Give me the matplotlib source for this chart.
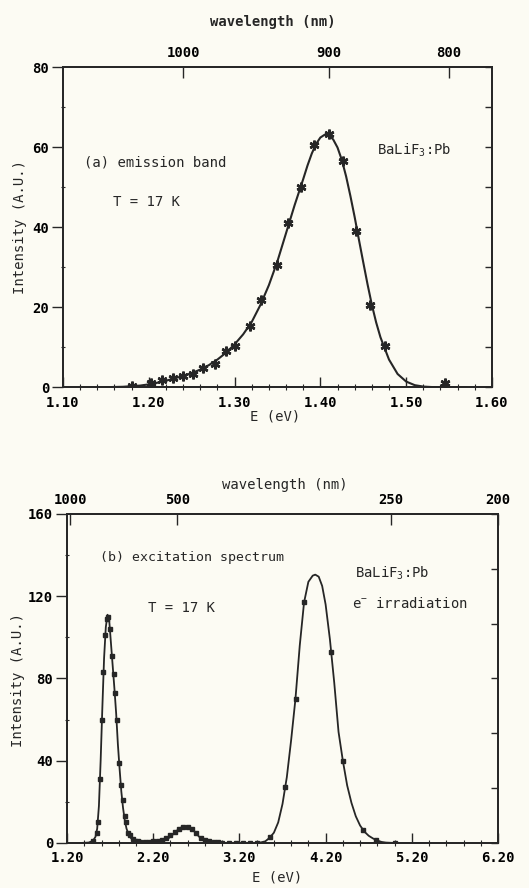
import matplotlib
matplotlib.use("agg")
import matplotlib.pyplot as plt
from matplotlib.ticker import MultipleLocator, FixedLocator, FormatStrFormatter

# ---- (a) emission band, measured points and fitted curve ----
em_pts_E = [1.180, 1.203, 1.216, 1.228, 1.240, 1.251, 1.263, 1.277, 1.290, 1.300,
            1.318, 1.331, 1.349, 1.362, 1.377, 1.393, 1.410, 1.426, 1.442, 1.458,
            1.475, 1.545]
em_pts_I = [0.3, 1.0, 1.8, 2.3, 2.8, 3.2, 4.7, 5.8, 9.0, 10.3,
            15.3, 21.8, 30.5, 41.0, 50.0, 60.5, 63.3, 56.5, 39.0, 20.5,
            10.2, 1.0]

em_fit_E = [1.15, 1.17, 1.19, 1.20, 1.21, 1.22, 1.23, 1.24, 1.25, 1.26,
            1.27, 1.28, 1.29, 1.30, 1.31, 1.32, 1.33, 1.34, 1.35, 1.36,
            1.37, 1.38, 1.385, 1.39, 1.395, 1.40, 1.405, 1.41, 1.415, 1.42,
            1.425, 1.43, 1.435, 1.44, 1.445, 1.45, 1.455, 1.46, 1.465, 1.47,
            1.48, 1.49, 1.50, 1.51, 1.52, 1.53, 1.55, 1.57]
em_fit_I = [0.0, 0.1, 0.4, 0.7, 1.1, 1.6, 2.2, 2.8, 3.5, 4.4,
            5.5, 6.9, 8.6, 10.7, 13.2, 16.3, 20.5, 25.5, 31.5, 38.5,
            45.5, 52.0, 55.4, 58.4, 60.8, 62.4, 63.1, 63.0, 61.9, 59.9,
            56.8, 52.7, 47.8, 42.5, 36.8, 31.2, 25.7, 20.6, 16.2, 12.5,
            6.9, 3.3, 1.4, 0.5, 0.15, 0.03, 0.0, 0.0]

# top axis of (a): wavelength ticks (nm) at their energy positions
em_wl_pos = [1.240, 1.410, 1.550]
em_wl_lab = ['1000', '900', '800']

# ---- (b) excitation spectrum ----
ex_pts_E = [1.500, 1.545, 1.560, 1.583, 1.606, 1.621, 1.641, 1.660, 1.680, 1.700,
            1.718, 1.740, 1.757, 1.780, 1.807, 1.830, 1.846, 1.870, 1.884, 1.910,
            1.930, 1.960, 1.990, 2.020, 2.050, 2.100, 2.150, 2.200, 2.250, 2.300,
            2.350, 2.400, 2.450, 2.500, 2.550, 2.600, 2.650, 2.700, 2.750, 2.800,
            2.850, 2.900, 2.950, 3.000, 3.080, 3.160, 3.240, 3.320, 3.400, 3.560,
            3.730, 3.860, 3.950, 4.260, 4.400, 4.630, 4.780, 5.000]
ex_pts_I = [1.0, 5.0, 10.0, 31.0, 60.0, 83.0, 101.0, 109.0, 110.0, 104.0,
            91.0, 82.0, 73.0, 60.0, 39.0, 28.0, 21.0, 13.0, 10.0, 5.0,
            4.0, 2.0, 1.0, 1.0, 0.5, 0.3, 0.5, 0.8, 1.0, 1.5,
            2.5, 4.0, 5.5, 7.0, 8.0, 8.0, 7.0, 5.0, 2.5, 1.5,
            1.0, 0.5, 0.3, 0.0, 0.0, 0.0, 0.0, 0.0, 0.0, 3.0,
            27.0, 70.0, 117.0, 93.0, 40.0, 6.5, 1.5, 0.0]

ex_fit_E = [1.35, 1.45, 1.50, 1.53, 1.55, 1.57, 1.59, 1.61, 1.63, 1.65,
            1.67, 1.69, 1.71, 1.73, 1.75, 1.77, 1.79, 1.81, 1.83, 1.85,
            1.87, 1.89, 1.92, 1.96, 2.00, 2.05, 2.10, 2.20, 2.30, 2.35,
            2.40, 2.45, 2.50, 2.55, 2.60, 2.65, 2.70, 2.75, 2.80, 2.85,
            2.90, 3.00, 3.20, 3.40, 3.45, 3.50, 3.55, 3.60, 3.65, 3.70,
            3.75, 3.80, 3.85, 3.90, 3.95, 4.00, 4.05, 4.08, 4.12, 4.16,
            4.20, 4.25, 4.30, 4.35, 4.40, 4.45, 4.50, 4.55, 4.60, 4.65,
            4.70, 4.75, 4.80, 4.85, 4.90, 5.00, 5.40]
ex_fit_I = [0.0, 0.2, 1.0, 3.0, 7.0, 18.0, 40.0, 66.0, 90.0, 105.0,
            111.0, 108.0, 97.0, 86.0, 75.0, 63.0, 48.0, 36.0, 25.0, 17.0,
            11.0, 7.0, 3.5, 1.5, 0.6, 0.2, 0.0, 0.3, 0.8, 1.5,
            3.0, 5.0, 7.0, 8.0, 8.0, 7.0, 4.5, 2.3, 1.0, 0.5,
            0.2, 0.0, 0.0, 0.0, 0.3, 0.8, 2.5, 5.0, 10.0, 19.0,
            32.0, 50.0, 70.0, 96.0, 117.0, 127.0, 130.0, 130.5, 129.5, 125.0,
            116.0, 99.0, 78.0, 54.0, 40.0, 28.0, 19.5, 13.0, 8.5, 5.5,
            3.5, 2.2, 1.2, 0.5, 0.2, 0.0, 0.0]

ex_wl_pos = [1.24, 2.48, 4.96, 6.20]
ex_wl_lab = ['1000', '500', '250', '200']

bg = '#fcfbf3'
ink = '#262626'
mono = 'DejaVu Sans Mono'
plt.rcParams['font.family'] = mono
plt.rcParams['mathtext.fontset'] = 'custom'
plt.rcParams['mathtext.rm'] = mono
plt.rcParams['axes.linewidth'] = 1.1
plt.rcParams['text.color'] = ink

fig = plt.figure(figsize=(5.29, 8.88), dpi=100, facecolor=bg)
ax1 = fig.add_axes([0.119, 0.564, 0.811, 0.3604])
ax2 = fig.add_axes([0.1267, 0.0507, 0.8147, 0.3705])


def style(ax, xlim, ylim, xmaj, xoff, xmin, ymaj, ymin, yright, wl_pos, wl_lab):
    ax.set_facecolor(bg)
    for s in ax.spines.values():
        s.set_color(ink)
    ax.set_xlim(*xlim)
    ax.set_ylim(*ylim)
    ax.xaxis.set_major_locator(MultipleLocator(xmaj, offset=xoff))
    ax.xaxis.set_minor_locator(MultipleLocator(xmin))
    ax.yaxis.set_major_locator(MultipleLocator(ymaj))
    ax.yaxis.set_minor_locator(MultipleLocator(ymin))
    ax.xaxis.set_major_formatter(FormatStrFormatter('%.2f'))
    ax.tick_params(axis='x', which='major', direction='in', length=7, width=1,
                   color=ink, labelsize=10, pad=6)
    ax.tick_params(axis='x', which='minor', direction='inout', length=4, width=0.8, color=ink)
    ax.tick_params(axis='y', which='major', direction='out', length=8, width=1,
                   color=ink, labelsize=10, pad=2)
    ax.tick_params(axis='y', which='minor', direction='inout', length=3, width=0.8, color=ink)
    for lab in ax.get_xticklabels() + ax.get_yticklabels():
        lab.set_fontweight('bold')

    top = ax.twiny()
    top.set_xlim(*xlim)
    top.xaxis.set_major_locator(FixedLocator(wl_pos))
    top.set_xticklabels(wl_lab, fontweight='bold')
    top.tick_params(axis='x', direction='in', length=8, width=1, color=ink,
                    labelsize=10, pad=5)

    right = ax.twinx()
    right.set_ylim(*ylim)
    right.yaxis.set_major_locator(MultipleLocator(yright))
    right.tick_params(axis='y', direction='in', length=5, width=1, color=ink,
                      labelright=False)
    for a in (top, right):
        for s in a.spines.values():
            s.set_color(ink)


style(ax1, (1.10, 1.60), (0, 80), 0.1, 0.0, 0.02, 20, 10, 10, em_wl_pos, em_wl_lab)
style(ax2, (1.20, 6.20), (0, 160), 1.0, 0.2, 0.2, 40, 20, 160 / 6, ex_wl_pos, ex_wl_lab)

ax1.plot(em_fit_E, em_fit_I, color=ink, lw=1.5, zorder=3)
ax1.plot(em_pts_E, em_pts_I, linestyle='', marker=(6, 2, 0), ms=7, mew=1.8,
         color=ink, zorder=4)

ax2.plot(ex_fit_E, ex_fit_I, color=ink, lw=1.3, zorder=3)
ax2.plot(ex_pts_E, ex_pts_I, linestyle='', marker='s', ms=2.6, color=ink, zorder=4)

ax1.text(0.05, 0.703, '(a) emission band', transform=ax1.transAxes, fontsize=10, va='center')
ax1.text(0.117, 0.578, 'T = 17 K', transform=ax1.transAxes, fontsize=10, va='center')
ax1.text(0.732, 0.74, 'BaLiF$_3$:Pb', transform=ax1.transAxes, fontsize=10, va='center')

ax2.text(0.077, 0.869, '(b) excitation spectrum', transform=ax2.transAxes, fontsize=9.5, va='center')
ax2.text(0.188, 0.714, 'T = 17 K', transform=ax2.transAxes, fontsize=10, va='center')
ax2.text(0.668, 0.821, 'BaLiF$_3$:Pb', transform=ax2.transAxes, fontsize=10, va='center')
ax2.text(0.661, 0.729, 'e$^{-}$ irradiation', transform=ax2.transAxes, fontsize=10, va='center')

fig.text(0.516, 0.975, 'wavelength (nm)', ha='center', va='center', fontsize=10, fontweight='bold')
fig.text(0.52, 0.5315, 'E (eV)', ha='center', va='center', fontsize=10)
fig.text(0.038, 0.744, 'Intensity (A.U.)', ha='center', va='center', rotation=90, fontsize=10)

fig.text(0.539, 0.454, 'wavelength (nm)', ha='center', va='center', fontsize=10)
fig.text(0.524, 0.0113, 'E (eV)', ha='center', va='center', fontsize=10)
fig.text(0.034, 0.234, 'Intensity (A.U.)', ha='center', va='center', rotation=90, fontsize=10)

fig.savefig('out.png', dpi=100, facecolor=bg)
